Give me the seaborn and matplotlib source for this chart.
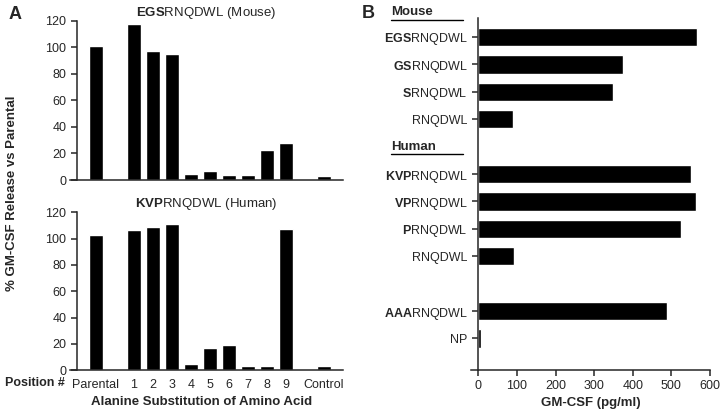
import matplotlib.pyplot as plt
import matplotlib.transforms as mtransforms
import pandas as pd
import seaborn as sns

# Panel A: alanine scan, % GM-CSF release vs parental
a_positions = ["Parental", "1", "2", "3", "4", "5", "6", "7", "8", "9", "Control"]
mouse_pct = [101, 117.5, 97, 95, 4.8, 6.5, 4, 3.5, 22.5, 28, 3]
human_pct = [103, 106.5, 108.5, 111, 4.8, 17, 19, 3.5, 3.3, 107, 3.5]
a_yticks = [0, 20, 40, 60, 80, 100, 120]

# Panel B: truncated peptides, GM-CSF (pg/ml)
b_groups = ["Mouse"] * 4 + ["Human"] * 4 + ["Other"] * 2
b_prefix = ["EGS", "GS", "S", "", "KVP", "VP", "P", "", "AAA", ""]
b_core = ["RNQDWL"] * 9 + ["NP"]
b_values = [567, 376, 348, 89, 552, 565, 524, 92, 489, 6]
b_xticks = [0, 100, 200, 300, 400, 500, 600]

sns.set_style("ticks")
plt.rcParams["font.family"] = ["Liberation Sans", "DejaVu Sans"]
plt.rcParams["mathtext.fontset"] = "custom"
plt.rcParams["mathtext.rm"] = "Liberation Sans"
plt.rcParams["mathtext.bf"] = "Liberation Sans:bold"
plt.rcParams["font.size"] = 9
plt.rcParams["axes.linewidth"] = 1.1
plt.rcParams["xtick.major.width"] = 1.1
plt.rcParams["ytick.major.width"] = 1.1
plt.rcParams["xtick.major.size"] = 4
plt.rcParams["ytick.major.size"] = 4


def bold_label(prefix, core):
    if prefix:
        return r"$\mathbf{" + prefix + "}$" + core
    return core


a_order = ["Parental", "_gap1"] + a_positions[1:-1] + ["_gap2", "Control"]


def draw_alanine(ax, values, prefix, species, show_x):
    df = pd.DataFrame({"position": a_positions, "pct": values})
    sns.barplot(data=df, x="position", y="pct", order=a_order, color="black",
                saturation=1, width=0.75, ax=ax)
    ax.set_ylim(0, 120)
    ax.set_yticks(a_yticks)
    ax.set_xlim(-1.35, len(a_order))
    ax.spines["left"].set_position(("data", -1))
    ax.spines["top"].set_visible(False)
    ax.spines["right"].set_visible(False)
    ticks = [a_order.index(p) for p in a_positions]
    ax.set_xticks(ticks, labels=a_positions if show_x else [""] * len(ticks))
    ax.tick_params(axis="x", length=0, pad=6, labelbottom=show_x)
    ax.set_xlabel("")
    ax.set_ylabel("")
    ax.set_title(bold_label(prefix, "RNQDWL") + f" ({species})", fontsize=9.5, pad=1)


fig = plt.figure(figsize=(7.2, 4.12), dpi=100)
ax_top = fig.add_axes([0.0972, 0.5631, 0.379, 0.386])
ax_bot = fig.add_axes([0.0972, 0.1012, 0.379, 0.3835])
ax_b = fig.add_axes([0.6546, 0.1019, 0.3315, 0.8536])

draw_alanine(ax_top, mouse_pct, "EGS", "Mouse", False)
draw_alanine(ax_bot, human_pct, "KVP", "Human", True)

fig.text(12.5 / 720, 1 - 193.5 / 412, "% GM-CSF Release vs Parental", rotation=90,
         ha="center", va="center", fontweight="bold", fontsize=9.5)
fig.text(202 / 720, 1 - 402 / 412, "Alanine Substitution of Amino Acid",
         ha="center", va="center", fontweight="bold", fontsize=9.5)
fig.text(5 / 720, 1 - 383 / 412, "Position #", ha="left", va="center",
         fontweight="bold", fontsize=9)

# Panel B
b_keys = [f"{g}:{p}{c}" for g, p, c in zip(b_groups, b_prefix, b_core)]
mouse_keys = [k for k, g in zip(b_keys, b_groups) if g == "Mouse"]
human_keys = [k for k, g in zip(b_keys, b_groups) if g == "Human"]
other_keys = [k for k, g in zip(b_keys, b_groups) if g == "Other"]
b_order = mouse_keys + ["_human"] + human_keys + ["_gap"] + other_keys

df_b = pd.DataFrame({"peptide": b_keys, "gmcsf": b_values})
sns.barplot(data=df_b, x="gmcsf", y="peptide", order=b_order, orient="h",
            color="black", saturation=1, width=0.67, ax=ax_b)
ax_b.set_xlim(-18, 600)
ax_b.set_ylim(len(b_order) + 0.15, -0.68)
ax_b.set_xticks(b_xticks)
ax_b.spines["left"].set_position(("data", 0))
ax_b.spines["top"].set_visible(False)
ax_b.spines["right"].set_visible(False)
ax_b.set_yticks([b_order.index(k) for k in b_keys],
                labels=[bold_label(p, c) for p, c in zip(b_prefix, b_core)])
ax_b.tick_params(axis="y", labelsize=9)
ax_b.tick_params(axis="x", labelsize=9, pad=3)
ax_b.set_ylabel("")
ax_b.set_xlabel("GM-CSF (pg/ml)", fontweight="bold", fontsize=9.5, labelpad=4)

trans = mtransforms.blended_transform_factory(ax_b.transAxes, ax_b.transData)
for name, y in [("Mouse", -0.9), ("Human", b_order.index("_human"))]:
    ax_b.text(-0.336, y, name, transform=trans, ha="left", va="center",
              fontweight="bold", fontsize=9.5, clip_on=False)
    ax_b.plot([-0.336, -0.035], [y + 0.27, y + 0.27], transform=trans,
              color="black", lw=1, clip_on=False)

fig.text(0.012, 0.964, "A", fontweight="bold", fontsize=13, ha="left", va="center")
fig.text(0.502, 0.968, "B", fontweight="bold", fontsize=13, ha="left", va="center")

fig.savefig("out.png", dpi=100)
plt.close(fig)
